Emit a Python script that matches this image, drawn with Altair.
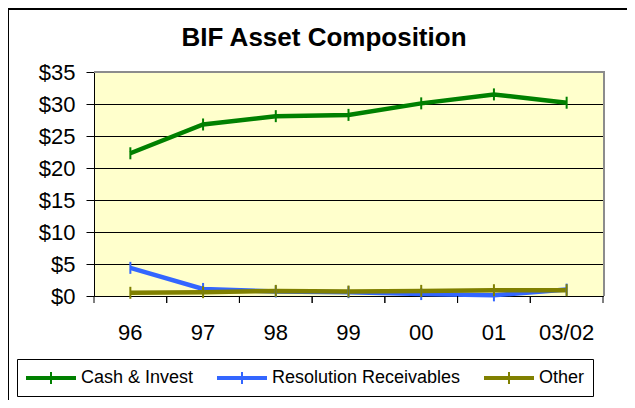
import altair as alt
import pandas as pd

years = ["96", "97", "98", "99", "00", "01", "03/02"]
series_names = ["Cash & Invest", "Resolution Receivables", "Other"]
cash_invest = [22.3, 26.8, 28.1, 28.3, 30.1, 31.5, 30.2]
resolution_receivables = [4.4, 1.1, 0.7, 0.6, 0.3, 0.1, 1.0]
other = [0.5, 0.6, 0.8, 0.7, 0.8, 0.9, 0.9]
colors = ["#008000", "#3366FF", "#808000"]
y_ticks = [0, 5, 10, 15, 20, 25, 30, 35]

rows = []
for name, vals in zip(series_names, [cash_invest, resolution_receivables, other]):
    for yr, v in zip(years, vals):
        rows.append({"year": yr, "series": name, "value": v})
df = pd.DataFrame(rows)
one = pd.DataFrame({"year": years[:1]})
yr_df = pd.DataFrame({"year": years})

W, H = 509, 224
FONT = "Liberation Sans"

x_enc = alt.X("year:N", sort=years, scale=alt.Scale(paddingInner=0, paddingOuter=0),
              axis=alt.Axis(title=None, ticks=False, domain=True, domainColor="black",
                            labelFont=FONT, labelFontSize=22, labelColor="black",
                            labelAngle=0, labelPadding=26, labelBaseline="top"))
y_enc = alt.Y("value:Q", scale=alt.Scale(domain=[0, 35], nice=False, zero=True),
              axis=alt.Axis(title=None, values=y_ticks, labelExpr="'$' + datum.value",
                            labelOverlap=False, tickCount=8,
                            labelFont=FONT, labelFontSize=22, labelColor="black",
                            tickSize=8, tickColor="black", labelPadding=11,
                            domainColor="black", gridColor="black", gridWidth=1,
                            gridOpacity=1))
color_enc = alt.Color("series:N", sort=series_names,
                      scale=alt.Scale(domain=series_names, range=colors),
                      legend=alt.Legend(title=None, orient="none", legendX=-77, legendY=287,
                                        direction="horizontal", columns=3,
                                        symbolType="M-1,-0.1H4M-1,0H4M-1,0.1H4M1.5,-0.6V0.6",
                                        symbolSize=400, symbolStrokeWidth=2,
                                        labelOffset=34, columnPadding=19,
                                        labelFont=FONT, labelFontSize=18, labelColor="black",
                                        labelLimit=400, padding=8, fillColor="white",
                                        strokeColor="black"))

border = alt.Chart(one).mark_rect(fill=None, stroke="black", strokeWidth=2).encode(
    x=alt.value(-86), y=alt.value(-63), x2=alt.value(W + 200), y2=alt.value(H + 300))

title = alt.Chart(one).mark_text(text="BIF Asset Composition", font=FONT, fontSize=26,
                                  fontWeight="bold", color="black", baseline="alphabetic",
                                  align="center").encode(
    x=alt.value(W / 2 - 24.5), y=alt.value(-26))

lines = alt.Chart(df).mark_line(strokeWidth=4.5).encode(
    x=x_enc, y=y_enc, color=color_enc)

points = alt.Chart(df).mark_point(shape="M0,-1V1", size=144, strokeWidth=2,
                                  filled=False, opacity=1).encode(
    x=x_enc, y=y_enc,
    color=alt.Color("series:N", sort=series_names, legend=None))

xticks_l = alt.Chart(yr_df).mark_rule(color="black", strokeWidth=1).encode(
    x=alt.X("year:N", sort=years, bandPosition=0), y=alt.value(H), y2=alt.value(H + 7))
xticks_r = alt.Chart(yr_df).mark_rule(color="black", strokeWidth=1).encode(
    x=alt.X("year:N", sort=years, bandPosition=1), y=alt.value(H), y2=alt.value(H + 7))

top_rule = alt.Chart(one).mark_rule(color="#8c8c8c", strokeWidth=2).encode(
    x=alt.value(0), x2=alt.value(W + 1), y=alt.value(0))
right_rule = alt.Chart(one).mark_rule(color="#8c8c8c", strokeWidth=2).encode(
    x=alt.value(W + 1), y=alt.value(-1), y2=alt.value(H))

chart = alt.layer(border, title, lines, points, xticks_l, xticks_r, top_rule, right_rule).properties(
    width=W, height=H,
    autosize=alt.AutoSizeParams(type="none"),
    padding={"left": 86, "top": 64, "right": 24, "bottom": 104},
    background="white",
).configure_view(fill="#FFFFCC", stroke=None)

chart.save("out.html", embed_options={"renderer": "svg", "actions": False})
